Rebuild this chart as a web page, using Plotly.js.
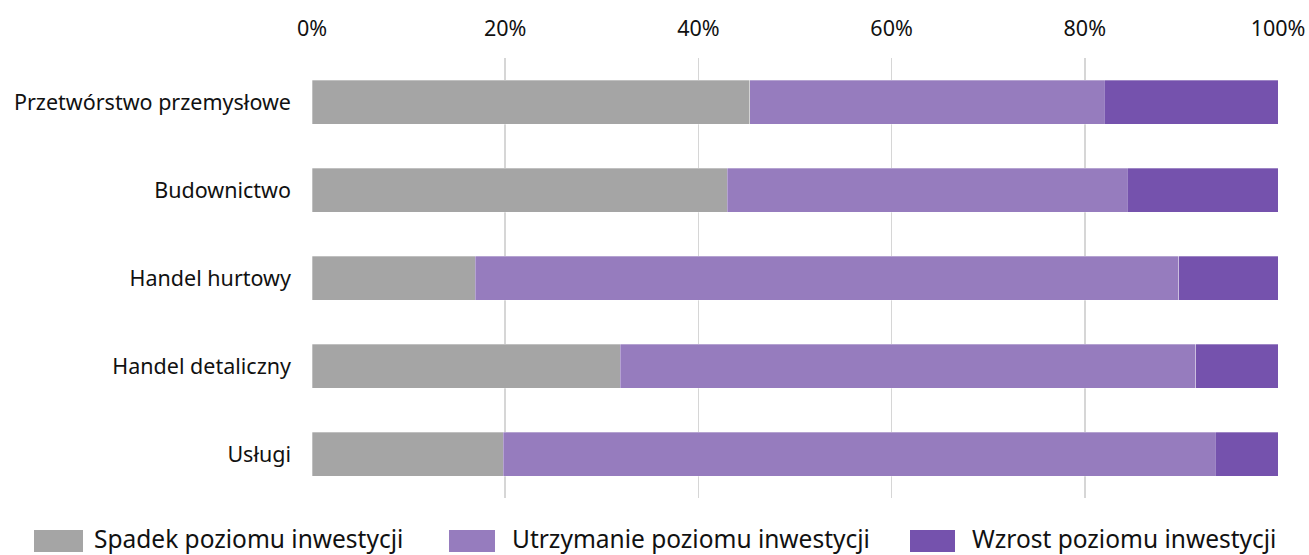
<!DOCTYPE html>
<html>
<head>
<meta charset="utf-8">
<script src="https://cdn.plot.ly/plotly-3.0.1.min.js"></script>
<style>html,body{margin:0;padding:0;background:#fff;}#chart{width:1309px;height:555px;}</style>
</head>
<body>
<div id="chart"></div>
<script>
const categories = ["Przetwórstwo przemysłowe", "Budownictwo", "Handel hurtowy", "Handel detaliczny", "Usługi"];
const seriesNames = ["Spadek poziomu inwestycji", "Utrzymanie poziomu inwestycji", "Wzrost poziomu inwestycji"];
const spadek = [45.3, 43.0, 16.9, 31.9, 19.8];
const utrzymanie = [36.7, 41.4, 72.8, 59.6, 73.7];
const wzrost = [18.0, 15.6, 10.3, 8.5, 6.5];
const xTicks = [0, 20, 40, 60, 80, 100];
const xTickLabels = ["0%", "20%", "40%", "60%", "80%", "100%"];

const colors = ["#a5a5a5", "#967cbe", "#7552ad"];
const FONT = "Noto Sans, sans-serif";
const W = 1309, H = 555;
const M = {l: 312, r: 31, t: 58, b: 57};
const PW = W - M.l - M.r, PH = H - M.t - M.b;
const px2x = p => (p - M.l) / PW;
const px2y = p => (H - M.b - p) / PH;

const values = [spadek, utrzymanie, wzrost];
const traces = values.map((v, i) => ({
  type: "bar",
  orientation: "h",
  name: seriesNames[i],
  y: categories,
  x: v,
  marker: {color: colors[i], line: {color: "rgba(255,255,255,0.6)", width: 0.5}},
  showlegend: false,
  hoverinfo: "x+y+name"
}));

// custom legend
const legendSw = [[34, 83], [449, 495], [910, 955]];
const legendTx = [92, 510, 970];
const shapes = [], annotations = [];
seriesNames.forEach((n, i) => {
  shapes.push({type: "rect", xref: "paper", yref: "paper",
    x0: px2x(legendSw[i][0]), x1: px2x(legendSw[i][1]),
    y0: px2y(530), y1: px2y(552), fillcolor: colors[i], line: {width: 0}});
  annotations.push({xref: "paper", yref: "paper", x: px2x(legendTx[i]), y: px2y(538),
    xanchor: "left", yanchor: "middle", text: n, showarrow: false,
    font: {family: FONT, size: 24.5, color: "#111"}});
});

const layout = {
  width: W, height: H,
  margin: M,
  paper_bgcolor: "#fff", plot_bgcolor: "#fff",
  barmode: "stack",
  bargap: 0.5,
  font: {family: FONT, size: 21.5, color: "#111"},
  xaxis: {
    side: "top", range: [0, 100], tickvals: xTicks, ticktext: xTickLabels,
    showgrid: true, gridcolor: "#d6d6d6", gridwidth: 1.5, zeroline: false,
    showline: false, ticks: "", ticklabelstandoff: 17, fixedrange: true,
    tickfont: {family: FONT, size: 21.5, color: "#111"}
  },
  yaxis: {
    categoryorder: "array", categoryarray: categories, autorange: "reversed",
    showgrid: false, zeroline: false, showline: false, ticks: "",
    ticklabelstandoff: 20, fixedrange: true,
    tickfont: {family: FONT, size: 21.5, color: "#111"}
  },
  shapes: shapes,
  annotations: annotations
};

Plotly.newPlot("chart", traces, layout, {displayModeBar: false, staticPlot: true});
</script>
</body>
</html>
